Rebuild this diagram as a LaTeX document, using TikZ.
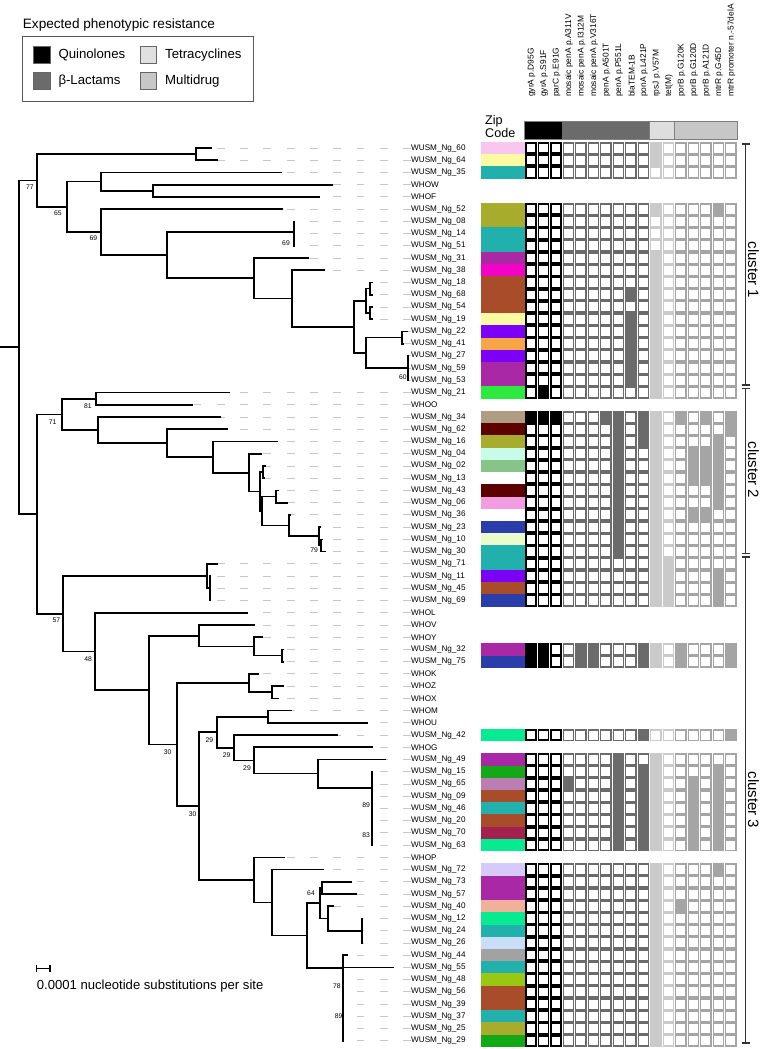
\documentclass[tikz,border=0pt]{standalone}
\usepackage{fontspec}
\setmainfont{Liberation Sans}
\definecolor{bgray}{HTML}{6B6B6B}
\definecolor{tgray}{HTML}{CACACA}
\definecolor{mgray}{HTML}{A5A5A5}
\colorlet{cc1}{black}\colorlet{cc2}{black}\colorlet{cc3}{black}
\colorlet{cc4}{bgray}\colorlet{cc5}{bgray}\colorlet{cc6}{bgray}\colorlet{cc7}{bgray}
\colorlet{cc8}{bgray}\colorlet{cc9}{bgray}\colorlet{cc10}{bgray}
\colorlet{cc11}{tgray}\colorlet{cc12}{tgray}
\colorlet{cc13}{mgray}\colorlet{cc14}{mgray}\colorlet{cc15}{mgray}\colorlet{cc16}{mgray}\colorlet{cc17}{mgray}
\definecolor{zpink}{HTML}{F8C6EE}
\definecolor{zyel}{HTML}{FDFBA2}
\definecolor{zteal}{HTML}{22B0AC}
\definecolor{zolive}{HTML}{A8AC2C}
\definecolor{zpurp}{HTML}{A828A6}
\definecolor{zmag}{HTML}{F204C6}
\definecolor{zrust}{HTML}{A94C2A}
\definecolor{zviol}{HTML}{7C00F6}
\definecolor{zorng}{HTML}{F6A646}
\definecolor{zgrn}{HTML}{2EEA3E}
\definecolor{ztan}{HTML}{B09C82}
\definecolor{zmar}{HTML}{5C0000}
\definecolor{zmint}{HTML}{C6FCE8}
\definecolor{zlgrn}{HTML}{86C48A}
\definecolor{zpnk}{HTML}{F29CE2}
\definecolor{zblue}{HTML}{2B3DA8}
\definecolor{zpale}{HTML}{EAFCCC}
\definecolor{zspr}{HTML}{06EA92}
\definecolor{zgr}{HTML}{12A816}
\definecolor{zmauve}{HTML}{BA7EB2}
\definecolor{zcrim}{HTML}{A4204E}
\definecolor{zlav}{HTML}{D6CAF8}
\definecolor{zsalm}{HTML}{F0B09A}
\definecolor{zlblu}{HTML}{CADEF8}
\definecolor{zgry}{HTML}{A2A2A2}
\definecolor{zyg}{HTML}{9AC812}
\newcommand\vl[3]{\draw[br] (#1,#2) -- (#1,#3);}
\newcommand\hl[3]{\draw[br] (#2,#1) -- (#3,#1);}
\begin{document}
\begin{tikzpicture}[x=1pt,y=-1pt,
  br/.style={line width=1.7pt, line cap=rect},
  leader/.style={draw=black!22, line width=0.9pt, dash pattern=on 7.8pt off 15.5pt},
  lab/.style={anchor=west, inner sep=0pt, font=\fontsize{8.15}{9}\selectfont},
  bs/.style={inner sep=0pt, font=\fontsize{6.8}{7}\selectfont},
  hdr/.style={rotate=90, anchor=west, inner sep=0pt, font=\fontsize{8.4}{9}\selectfont},
  lg/.style={anchor=west, inner sep=0pt, font=\fontsize{13.2}{15}\selectfont},
  swatch/.style={draw=black!60, line width=0.8pt},
  cl/.style={line width=1.4pt, draw=black!80},
  clt/.style={rotate=-90, inner sep=0pt, font=\fontsize{15}{16}\selectfont}]
\useasboundingbox (0,0) rectangle (760,1049);
\fill[white] (0,0) rectangle (760,1049);

% ---------- legend ----------
\node[anchor=base west, inner sep=0pt, font=\fontsize{13.6}{15}\selectfont] (lgt) at (22.7,29) {Expected phenotypic resistance};
\draw[draw=black!65, line width=1pt] (22.7,36.7) rectangle (253.3,101.7);
\draw[swatch, fill=black] (33.3,46.7) rectangle (50.7,63.3);
\draw[swatch, fill=bgray] (33.3,72.7) rectangle (50.7,89.3);
\draw[swatch, fill=black!12] (140,46.7) rectangle (156.7,63.3);
\draw[swatch, fill=black!22] (140,72.7) rectangle (156.7,89.3);
\node[lg] (lq) at (58.3,55) {Quinolones};
\node[lg] (lb) at (58.3,81) {β-Lactams};
\node[lg] (lt) at (165,55) {Tetracyclines};
\node[lg] (lm) at (165,81) {Multidrug};

% ---------- header ----------
\node[anchor=base west, inner sep=0pt, font=\fontsize{12.6}{14}\selectfont] (zip) at (485,124) {Zip};
\node[anchor=base west, inner sep=0pt, font=\fontsize{12.6}{14}\selectfont] (code) at (485,137.3) {Code};
\fill[black] (524.5,121.7) rectangle (562,139.3);
\fill[bgray] (562,121.7) rectangle (649.5,139.3);
\fill[black!13] (649.5,121.7) rectangle (674.5,139.3);
\fill[black!22] (674.5,121.7) rectangle (737,139.3);
\draw[black!50, line width=0.6pt] (524.5,121.7) rectangle (737,139.3);
\draw[black!50, line width=0.6pt] (649.5,121.7) -- (649.5,139.3) (674.5,121.7) -- (674.5,139.3);
\foreach \c/\t in {1/gyrA p.D95G, 2/gyrA p.S91F, 3/parC p.E91G, 4/mosaic penA p.A311V,
  5/mosaic penA p.I312M, 6/mosaic penA p.V316T, 7/penA p.A501T, 8/penA p.P551L,
  9/blaTEM-1B, 10/ponA p.L421P, 11/rpsJ p.V57M, 12/tet(M), 13/porB p.G120K,
  14/porB p.G120D, 15/porB p.A121D, 16/mtrR p.G45D, 17/mtrR promoter n.-57delA}
  \node[hdr] (h\c) at ({524.5+12.5*\c-5.5},97) {\t};

% ---------- rows ----------
\foreach \n/\nm/\tip/\zc/\cl/\pos in {
 1/WUSM\_Ng\_60/210.7/zpink/1/{11},
 2/WUSM\_Ng\_64/217.3/zyel/1/{11},
 3/WUSM\_Ng\_35/280.7/zteal/1/{0},
 4/WHOW/332.3/white/0/{0},
 5/WHOF/319/white/0/{0},
 6/WUSM\_Ng\_52/281.7/zolive/1/{11,16},
 7/WUSM\_Ng\_08/294/zolive/1/{0},
 8/WUSM\_Ng\_14/294/zteal/1/{0},
 9/WUSM\_Ng\_51/294/zteal/1/{0},
 10/WUSM\_Ng\_31/308.3/zpurp/1/{11},
 11/WUSM\_Ng\_38/324.3/zmag/1/{11},
 12/WUSM\_Ng\_18/372/zrust/1/{11},
 13/WUSM\_Ng\_68/372/zrust/1/{9,11},
 14/WUSM\_Ng\_54/372/zrust/1/{11},
 15/WUSM\_Ng\_19/372/zyel/1/{9,11},
 16/WUSM\_Ng\_22/406.7/zviol/1/{9,11},
 17/WUSM\_Ng\_41/402.7/zorng/1/{9,11},
 18/WUSM\_Ng\_27/408.3/zviol/1/{9,11},
 19/WUSM\_Ng\_59/408.3/zpurp/1/{9,11},
 20/WUSM\_Ng\_53/408.3/zpurp/1/{9,11},
 21/WUSM\_Ng\_21/229/zgrn/1/{2,11},
 22/WHOO/191.7/white/0/{0},
 23/WUSM\_Ng\_34/220/ztan/1/{1,2,3,7,8,10,11,13,15,17},
 24/WUSM\_Ng\_62/227.3/zmar/1/{8,10,11,17},
 25/WUSM\_Ng\_16/276.7/zolive/1/{8,10,11,16},
 26/WUSM\_Ng\_04/261/zmint/1/{8,11,14,15,16},
 27/WUSM\_Ng\_02/265/zlgrn/1/{8,11,14,15,16},
 28/WUSM\_Ng\_13/264/white/1/{8,11,14,15,16},
 29/WUSM\_Ng\_43/278.3/zmar/1/{8,11,16},
 30/WUSM\_Ng\_06/287.3/zpnk/1/{8,11,16},
 31/WUSM\_Ng\_36/290/white/1/{8,11,14,15},
 32/WUSM\_Ng\_23/320.5/zblue/1/{8,11},
 33/WUSM\_Ng\_10/322/zpale/1/{8,11},
 34/WUSM\_Ng\_30/325/zteal/1/{8,11},
 35/WUSM\_Ng\_71/217.3/zteal/1/{11,12},
 36/WUSM\_Ng\_11/211.5/zviol/1/{11,12,16},
 37/WUSM\_Ng\_45/211.5/zrust/1/{11,12,16},
 38/WUSM\_Ng\_69/211.5/zblue/1/{11,12,16},
 39/WHOL/246.7/white/0/{0},
 40/WHOV/254/white/0/{0},
 41/WHOY/261.7/white/0/{0},
 42/WUSM\_Ng\_32/283/zpurp/1/{1,2,5,6,10,11,13,17},
 43/WUSM\_Ng\_75/283/zblue/1/{1,2,5,6,10,11,13,17},
 44/WHOK/257.7/white/0/{0},
 45/WHOZ/282.7/white/0/{0},
 46/WHOX/278.3/white/0/{0},
 47/WHOM/290.7/white/0/{0},
 48/WHOU/366.7/white/0/{0},
 49/WUSM\_Ng\_42/336.7/zspr/1/{10,17},
 50/WHOG/371.7/white/0/{0},
 51/WUSM\_Ng\_49/385/zpurp/1/{8,11},
 52/WUSM\_Ng\_15/374/zgr/1/{8,10,11,16},
 53/WUSM\_Ng\_65/374/zmauve/1/{4,8,10,11,14,16},
 54/WUSM\_Ng\_09/374/zrust/1/{8,10,11,14,16},
 55/WUSM\_Ng\_46/374/zteal/1/{8,10,11,14,16},
 56/WUSM\_Ng\_20/374/zrust/1/{8,10,11,14,16},
 57/WUSM\_Ng\_70/374/zcrim/1/{8,10,11,14,16},
 58/WUSM\_Ng\_63/374/zspr/1/{8,10,11,14,16},
 59/WHOP/284/white/0/{0},
 60/WUSM\_Ng\_72/323.3/zlav/1/{11,16},
 61/WUSM\_Ng\_73/350.7/zpurp/1/{11},
 62/WUSM\_Ng\_57/356/zpurp/1/{11},
 63/WUSM\_Ng\_40/333/zsalm/1/{11,13},
 64/WUSM\_Ng\_12/362.3/zspr/1/{11},
 65/WUSM\_Ng\_24/362.3/zteal/1/{11},
 66/WUSM\_Ng\_26/362.3/zlblu/1/{11},
 67/WUSM\_Ng\_44/346.7/zgry/1/{11},
 68/WUSM\_Ng\_55/392.7/zteal/1/{11},
 69/WUSM\_Ng\_48/345/zyg/1/{11},
 70/WUSM\_Ng\_56/345/zrust/1/{11},
 71/WUSM\_Ng\_39/345/zrust/1/{11},
 72/WUSM\_Ng\_37/345/zteal/1/{11},
 73/WUSM\_Ng\_25/345/zolive/1/{11},
 74/WUSM\_Ng\_29/345/zgr/1/{11}}
{
  \pgfmathsetmacro\yy{148+(\n-1)*12.23}
  \coordinate (t\n) at (\tip,\yy);
  \node[lab] (l\n) at (411,\yy) {\nm};
  \ifdim\tip pt<409pt \draw[leader] (l\n.west) -- (t\n); \fi
  \fill[\zc] (481,\yy-6.16) rectangle (524.5,\yy+6.16);
  \ifnum\cl=1
    \foreach \c in {1,...,17}{
      \fill[cc\c] ({524.5+12.5*\c-12},\yy-6.16) rectangle ({524.5+12.5*\c-0.5},\yy+6.16);
      \ifnum\c<4
        \fill[white] ({524.5+12.5*\c-10.5},\yy-4.25) rectangle ({524.5+12.5*\c-2},\yy+4.25);
      \else
        \fill[white] ({524.5+12.5*\c-10.75},\yy-4.5) rectangle ({524.5+12.5*\c-1.75},\yy+4.5);
      \fi
    }
    \foreach \c in \pos {
      \ifnum\c>0
        \fill[cc\c] ({524.5+12.5*\c-12},\yy-6.16) rectangle ({524.5+12.5*\c-0.5},\yy+6.16);
      \fi
    }
  \fi
}

% ---------- tree ----------
\hl{347.3}{0}{19.3}
\vl{19.3}{180.5}{514.1} \hl{180.5}{19.3}{37.3} \hl{514.1}{19.3}{37.3}
\vl{37.3}{154.1}{206.9} \hl{154.1}{37.3}{195.7} \hl{206.9}{37.3}{66.7}
\vl{195.7}{148}{160.23} \hl{148}{195.7}{210.7} \hl{160.23}{195.7}{217.3}
\vl{66.7}{181.6}{232.2} \hl{181.6}{66.7}{100.7} \hl{232.2}{66.7}{101.3}
\vl{100.7}{172.46}{190.8} \hl{172.46}{100.7}{280.7} \hl{190.8}{100.7}{152.7}
\vl{152.7}{184.69}{196.92} \hl{184.69}{152.7}{332.3} \hl{196.92}{152.7}{319}
\vl{101.3}{209.15}{255.2} \hl{209.15}{101.3}{281.7} \hl{255.2}{101.3}{167.3}
\vl{167.3}{232}{278.3} \hl{232}{167.3}{294} \hl{278.3}{167.3}{254}
\vl{294}{221.38}{245.84}
\vl{254}{258.07}{298.6} \hl{258.07}{254}{308.3} \hl{298.6}{254}{292.3}
\vl{292.3}{270.3}{326.9} \hl{270.3}{292.3}{324.3} \hl{326.9}{292.3}{354}
\vl{354}{300.9}{352.9} \hl{300.9}{354}{366} \hl{352.9}{354}{366}
\vl{366}{288.6}{313.1} \hl{288.6}{366}{370} \hl{313.1}{366}{370}
\vl{370}{282.53}{294.76} \hl{282.53}{370}{372} \hl{294.76}{370}{372}
\vl{370}{306.99}{319.22} \hl{306.99}{370}{372} \hl{319.22}{370}{372}
\vl{366}{337.6}{368.1} \hl{337.6}{366}{401.7} \hl{368.1}{366}{408.3}
\vl{401.7}{331.45}{343.68} \hl{331.45}{401.7}{406.7} \hl{343.68}{401.7}{402.7}
\vl{408.3}{355.91}{380.37}
\vl{37.3}{414.4}{613.8} \hl{414.4}{37.3}{61.7} \hl{613.8}{37.3}{63.3}
\vl{61.7}{398.7}{430.1} \hl{398.7}{61.7}{96} \hl{430.1}{61.7}{97.7}
\vl{96}{392.6}{404.83} \hl{392.6}{96}{229} \hl{404.83}{96}{191.7}
\vl{97.7}{417.06}{443.2} \hl{417.06}{97.7}{220} \hl{443.2}{97.7}{166.7}
\vl{166.7}{429.29}{457.1} \hl{429.29}{166.7}{227.3} \hl{457.1}{166.7}{213.3}
\vl{213.3}{441.52}{472.7} \hl{441.52}{213.3}{276.7} \hl{472.7}{213.3}{249.3}
\vl{249.3}{453.75}{491.6} \hl{453.75}{249.3}{261} \hl{491.6}{249.3}{260}
\vl{260}{472.1}{511.1} \hl{472.1}{260}{263.3} \hl{511.1}{260}{262.3}
\vl{263.3}{465.98}{478.21} \hl{465.98}{263.3}{265} \hl{478.21}{263.3}{264}
\vl{262.3}{496.6}{525.6} \hl{496.6}{262.3}{276} \hl{525.6}{262.3}{288.7}
\vl{276}{490.44}{502.67} \hl{490.44}{276}{278.3} \hl{502.67}{276}{287.3}
\vl{288.7}{514.9}{536.3} \hl{514.9}{288.7}{290} \hl{536.3}{288.7}{319.3}
\vl{319.3}{527.13}{545.5} \hl{527.13}{319.3}{320.5} \hl{545.5}{319.3}{321}
\vl{321}{539.36}{551.59} \hl{539.36}{321}{322} \hl{551.59}{321}{325}
\vl{63.3}{576.05}{651.5} \hl{576.05}{63.3}{207.3} \hl{651.5}{63.3}{95}
\vl{207.3}{563.82}{588.28} \hl{563.82}{207.3}{217.3} \hl{588.28}{207.3}{210}
\vl{210}{576.05}{600.51}
\vl{95}{612.74}{690.2} \hl{612.74}{95}{246.7} \hl{690.2}{95}{149}
\vl{149}{635.7}{744.6} \hl{635.7}{149}{199.3} \hl{744.6}{149}{176.7}
\vl{199.3}{624.97}{646.4} \hl{624.97}{199.3}{254} \hl{646.4}{199.3}{254.3}
\vl{254.3}{637.2}{655.5} \hl{637.2}{254.3}{261.7} \hl{655.5}{254.3}{281.7}
\vl{281.7}{649.43}{661.66} \hl{649.43}{281.7}{283} \hl{661.66}{281.7}{283}
\vl{176.7}{683.1}{806.1} \hl{683.1}{176.7}{249.3} \hl{806.1}{176.7}{198.7}
\vl{249.3}{673.89}{692.2} \hl{673.89}{249.3}{257.7} \hl{692.2}{249.3}{271.7}
\vl{271.7}{686.12}{698.35} \hl{686.12}{271.7}{282.7} \hl{698.35}{271.7}{278.3}
\vl{198.7}{732.2}{880} \hl{732.2}{198.7}{216.7} \hl{880}{198.7}{254.3}
\vl{216.7}{716.7}{747.7} \hl{716.7}{216.7}{268.3} \hl{747.7}{216.7}{234.3}
\vl{268.3}{710.58}{722.81} \hl{710.58}{268.3}{290.7} \hl{722.81}{268.3}{366.7}
\vl{234.3}{735.04}{760.4} \hl{735.04}{234.3}{336.7} \hl{760.4}{234.3}{254}
\vl{254}{747.27}{773.6} \hl{747.27}{254}{371.7} \hl{773.6}{254}{318.3}
\vl{318.3}{759.5}{787.7} \hl{759.5}{318.3}{385} \hl{787.7}{318.3}{372}
\vl{372}{771.73}{845.11}
\vl{254.3}{857.34}{902.6} \hl{857.34}{254.3}{284} \hl{902.6}{254.3}{271.7}
\vl{271.7}{869.57}{935.6} \hl{869.57}{271.7}{323.3} \hl{935.6}{271.7}{306.7}
\vl{306.7}{903.2}{968} \hl{903.2}{306.7}{320} \hl{968}{306.7}{343.3}
\vl{320}{887.9}{918.5} \hl{887.9}{320}{321.7} \hl{918.5}{320}{328.3}
\vl{321.7}{881.8}{894.03} \hl{881.8}{321.7}{350.7} \hl{894.03}{321.7}{356}
\vl{328.3}{906.26}{930.72} \hl{906.26}{328.3}{333} \hl{930.72}{328.3}{362.3}
\vl{362.3}{918.49}{942.95}
\vl{343.3}{955.18}{1040.79} \hl{955.18}{343.3}{346.7} \hl{967.41}{343.3}{392.7}

% bootstrap values
\foreach \x/\y/\v [count=\i] in {29.8/187.2/77, 58/213.2/65, 93.3/238.2/69, 286/243.2/69,
  87.8/406.2/81, 52.7/422.5/71, 56.3/620.5/57, 88.2/659.2/48, 314.2/549.8/79,
  167.7/752.5/30, 209.3/740.2/29, 226.7/755.2/29, 247/768.2/29, 192.7/813.8/30,
  366.2/804.8/89, 366.2/834.8/83, 311/893.2/64, 336.8/986.5/78, 338.7/1016.5/89,
  402.8/376.7/60}
  \node[bs] (b\i) at (\x,\y) {\v};

% scale bar
\draw[line width=1.3pt] (36.7,968.3) -- (50,968.3);
\draw[line width=1.1pt] (36.7,965) -- (36.7,971.6) (50,965) -- (50,971.6);
\node[anchor=base west, inner sep=0pt, font=\fontsize{13.1}{15}\selectfont] (sc) at (36.7,989) {0.0001 nucleotide substitutions per site};

% clusters
\draw[cl] (741.7,144) -- (750,144) (745.7,144) -- (745.7,385) (741.7,385) -- (750,385);
\draw[cl] (741.7,388.5) -- (750,388.5) (745.7,388.5) -- (745.7,553.5) (741.7,553.5) -- (750,553.5);
\draw[cl] (741.7,557) -- (750,557) (745.7,557) -- (745.7,1043) (741.7,1043) -- (750,1043);
\node[clt] (c1) at (753.5,270) {cluster 1};
\node[clt] (c2) at (753.5,470) {cluster 2};
\node[clt] (c3) at (753.5,800) {cluster 3};
\end{tikzpicture}
\end{document}
